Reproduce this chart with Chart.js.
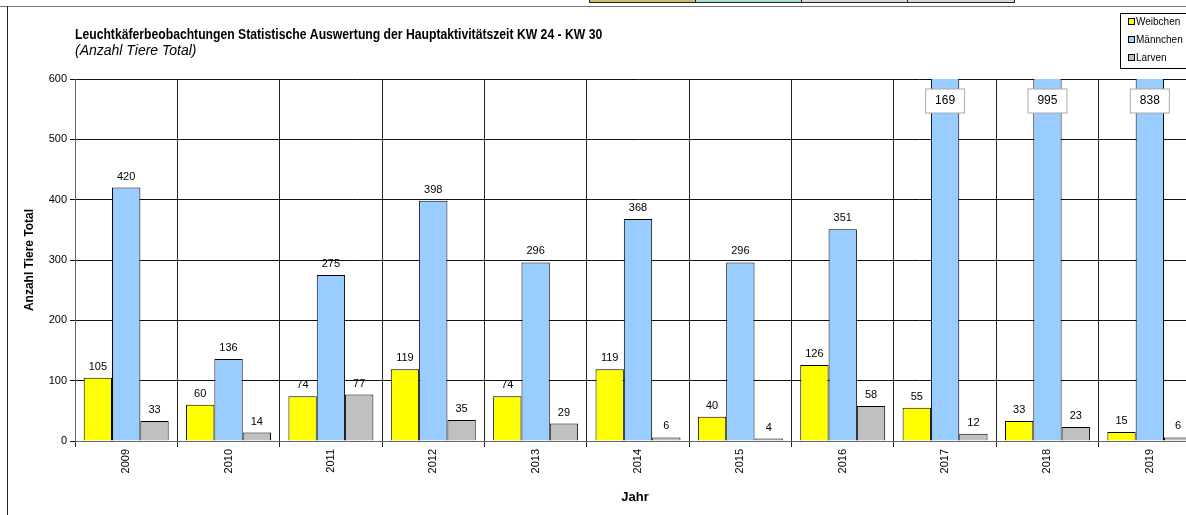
<!DOCTYPE html>
<html>
<head>
<meta charset="utf-8">
<script src="https://cdn.jsdelivr.net/npm/chart.js@4.4.0/dist/chart.umd.min.js"></script>
<style>
body{margin:0;overflow:hidden;background:#fff;}
#wrap{position:relative;width:1186px;height:515px;overflow:hidden;}
#cv{position:absolute;left:0;top:0;}
.ln{position:absolute;}
</style>
</head>
<body>
<div id="wrap">
<canvas id="cv" width="1210" height="515" style="width:1210px;height:515px"></canvas>
<div class="ln" style="left:0;top:6px;width:1186px;height:1px;background:#777"></div>
<div class="ln" style="left:7px;top:6px;width:1px;height:509px;background:#222"></div>
<div class="ln" style="left:589px;top:0;width:105px;height:2px;background:#c8c060;border:1px solid #222;border-top:0"></div>
<div class="ln" style="left:695px;top:0;width:105px;height:2px;background:#a8dcd8;border:1px solid #222;border-top:0"></div>
<div class="ln" style="left:801px;top:0;width:105px;height:2px;background:#d8d8d8;border:1px solid #222;border-top:0"></div>
<div class="ln" style="left:907px;top:0;width:106px;height:2px;background:#d8d8d8;border:1px solid #222;border-top:0"></div>
</div>
<script>
const jahre=['2009','2010','2011','2012','2013','2014','2015','2016','2017','2018','2019'];
const weibchen=[105,60,74,119,74,119,40,126,55,33,15];
const maennchen=[420,136,275,398,296,368,296,351,1169,995,838];
const larven=[33,14,77,35,29,6,4,58,12,23,6];
const maennchenText=['420','136','275','398','296','368','296','351','169','995','838'];
const yTicks=[0,100,200,300,400,500,600];

const FONT='"Liberation Sans", Arial, sans-serif';

const labelPlugin={
  id:'labels',
  afterDatasetsDraw(chart){
    const ctx=chart.ctx, top=chart.chartArea.top;
    ctx.save();
    ctx.textAlign='center';
    ctx.textBaseline='middle';
    chart.data.datasets.forEach((ds,di)=>{
      const meta=chart.getDatasetMeta(di);
      meta.data.forEach((bar,i)=>{
        const txt=ds.texts?ds.texts[i]:String(ds.data[i]);
        if(bar.y<top){
          const bx=bar.x, by=top+22;
          ctx.fillStyle='#fff';
          ctx.strokeStyle='#aaa';
          ctx.lineWidth=1;
          ctx.fillRect(bx-19.5,by-12,39,24);
          ctx.strokeRect(bx-19.5,by-12,39,24);
          ctx.fillStyle='#000';
          ctx.font='12px '+FONT;
          ctx.fillText(txt,bx,by);
        }else{
          ctx.fillStyle='#000';
          ctx.font='11px '+FONT;
          ctx.fillText(txt,bar.x,bar.y-11);
        }
      });
    });
    ctx.restore();
  }
};

const decoPlugin={
  id:'deco',
  afterDraw(chart){
    const ctx=chart.ctx;
    ctx.save();
    ctx.fillStyle='#000';
    ctx.textBaseline='middle';
    ctx.textAlign='left';
    // title: Arial-like but a bit narrower than Liberation
    ctx.save();
    ctx.translate(75,35);
    ctx.scale(0.87,1);
    ctx.font='bold 14px '+FONT;
    ctx.fillText('Leuchtkäferbeobachtungen Statistische Auswertung der Hauptaktivitätszeit KW 24 - KW 30',0,0);
    ctx.restore();
    ctx.font='italic 14px '+FONT;
    ctx.fillText('(Anzahl Tiere Total)',75,51);
    ctx.font='bold 13px '+FONT;
    ctx.textAlign='center';
    ctx.fillText('Jahr',635,497);
    ctx.translate(30,260);
    ctx.rotate(-Math.PI/2);
    ctx.font='bold 12px '+FONT;
    ctx.fillText('Anzahl Tiere Total',0,0);
    ctx.restore();

    // legend
    ctx.save();
    ctx.fillStyle='#fff';
    ctx.fillRect(1120.5,13.5,70,55);
    ctx.strokeStyle='#000';
    ctx.lineWidth=1;
    ctx.strokeRect(1120.5,13.5,70,55);
    ctx.font='10px '+FONT;
    ctx.textBaseline='middle';
    ctx.textAlign='left';
    chart.data.datasets.forEach((ds,i)=>{
      const y=22+i*18;
      ctx.fillStyle=ds.backgroundColor;
      ctx.fillRect(1128.5,y-3.5,6,6);
      ctx.strokeStyle='#000';
      ctx.strokeRect(1128.5,y-3.5,6,6);
      ctx.fillStyle='#000';
      ctx.fillText(ds.label,1136,y);
    });
    ctx.restore();
  }
};

new Chart(document.getElementById('cv'),{
  type:'bar',
  data:{
    labels:jahre,
    datasets:[
      {label:'Weibchen',data:weibchen,backgroundColor:'#FFFF00',borderColor:'#000',borderWidth:1},
      {label:'Männchen',data:maennchen,texts:maennchenText,backgroundColor:'#99CCFF',borderColor:'#000',borderWidth:1},
      {label:'Larven',data:larven,backgroundColor:'#C0C0C0',borderColor:'#000',borderWidth:1}
    ]
  },
  options:{
    responsive:false,
    animation:false,
    layout:{padding:{left:0,right:9,top:79,bottom:0}},
    plugins:{legend:{display:false},tooltip:{enabled:false},title:{display:false}},
    datasets:{bar:{categoryPercentage:0.83,barPercentage:1}},
    scales:{
      x:{
        afterFit(s){s.height=74;},
        grid:{color:'#222',offset:true,tickLength:6,lineWidth:1},
        border:{color:'#666'},
        ticks:{minRotation:90,maxRotation:90,color:'#000',font:{family:FONT,size:11},padding:2}
      },
      y:{
        min:0,max:600,
        afterFit(s){s.width=75;},
        afterBuildTicks(s){s.ticks=yTicks.map(v=>({value:v}));},
        grid:{color:'#111',tickLength:5,lineWidth:1},
        border:{color:'#666'},
        ticks:{color:'#000',font:{family:FONT,size:11},padding:3}
      }
    }
  },
  plugins:[labelPlugin,decoPlugin]
});
</script>
</body>
</html>
